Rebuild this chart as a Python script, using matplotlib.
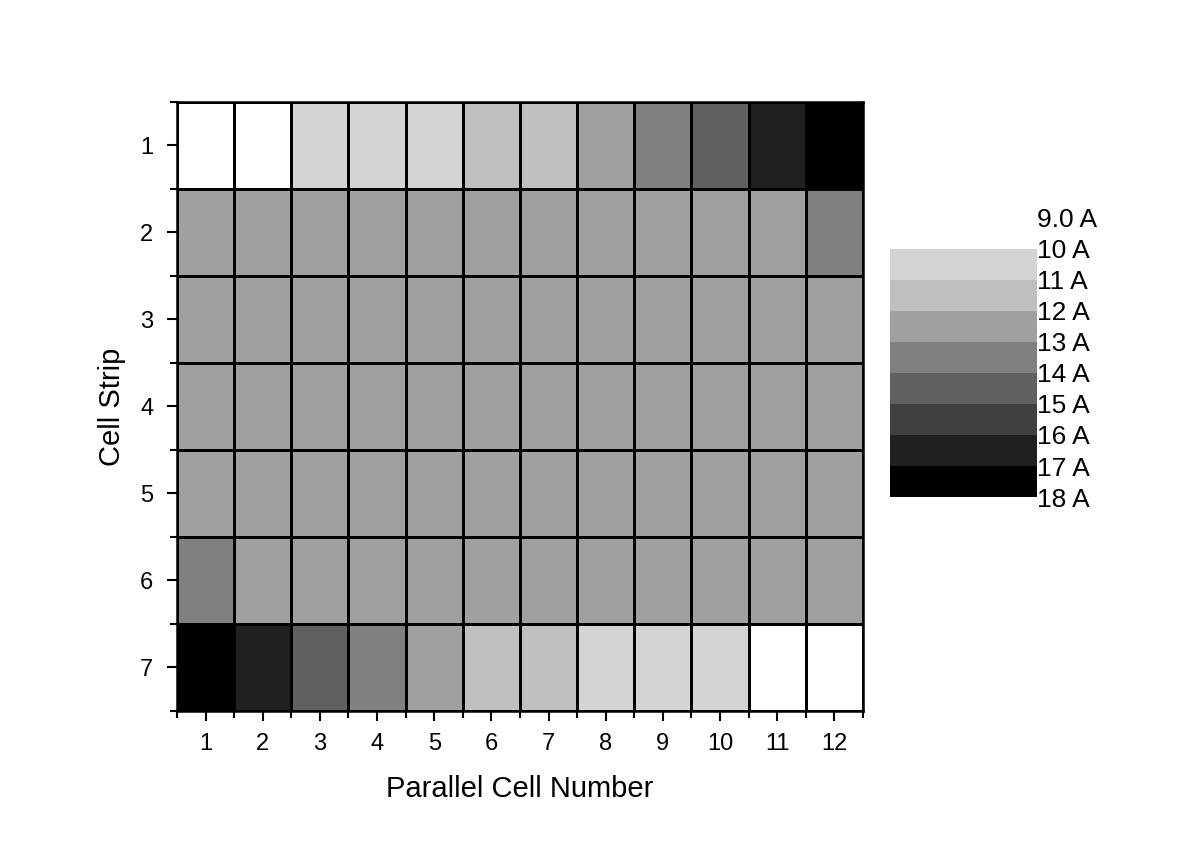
import numpy as np
import matplotlib.pyplot as plt
from matplotlib.colors import ListedColormap, BoundaryNorm

plt.rcParams['font.family'] = ['Liberation Sans', 'DejaVu Sans']

# Parallel cell numbers (columns) and cell strips (rows)
cells = np.arange(1, 13)
strips = np.arange(1, 8)

# Current per cell (A), read from the grey levels
strip1 = [9.5, 9.5, 10.5, 10.5, 10.5, 11.5, 11.5, 12.5, 13.5, 14.5, 16.5, 17.5]
strip2 = [12.5] * 11 + [13.5]
strip3 = [12.5] * 12
strip4 = [12.5] * 12
strip5 = [12.5] * 12
strip6 = [13.5] + [12.5] * 11
strip7 = [17.5, 16.5, 14.5, 13.5, 12.5, 11.5, 11.5, 10.5, 10.5, 10.5, 9.5, 9.5]
current = np.array([strip1, strip2, strip3, strip4, strip5, strip6, strip7])

levels = [9, 10, 11, 12, 13, 14, 15, 16, 17, 18]
level_labels = ['9.0 A', '10 A', '11 A', '12 A', '13 A', '14 A', '15 A', '16 A', '17 A', '18 A']
greys = ['#ffffff', '#d4d4d4', '#bfbfbf', '#a0a0a0', '#808080',
         '#606060', '#404040', '#202020', '#000000']

cmap = ListedColormap(greys)
norm = BoundaryNorm(levels, cmap.N)

fig = plt.figure(figsize=(11.98, 8.46), dpi=100)
ax = fig.add_axes([0.1477, 0.1596, 0.5726, 0.7199])

x_edges = np.arange(0.5, 13, 1)
y_edges = np.arange(0.5, 8, 1)
mesh = ax.pcolormesh(x_edges, y_edges, current, cmap=cmap, norm=norm,
                     edgecolors='black', linewidth=1.8)
ax.set_xlim(0.5, 12.5)
ax.set_ylim(7.5, 0.5)

ax.set_xticks(cells)
ax.set_yticks(strips)
ax.set_xticks(x_edges, minor=True)
ax.set_yticks(y_edges, minor=True)
ax.tick_params(which='major', direction='out', length=7, width=1.5, labelsize=17, pad=9)
ax.tick_params(which='minor', direction='out', length=5, width=1.5)
ax.tick_params(axis='y', pad=10)
for s in ax.spines.values():
    s.set_linewidth(1.8)

ax.set_xlabel('Parallel Cell Number', fontsize=21, labelpad=14)
ax.set_ylabel('Cell Strip', fontsize=21, labelpad=10)

# Colour scale
cax = fig.add_axes([0.743, 0.4125, 0.1227, 0.33])
cb = fig.colorbar(mesh, cax=cax, ticks=levels)
cb.outline.set_visible(False)
cax.invert_yaxis()
cax.set_yticklabels(level_labels)
cax.tick_params(length=0, labelsize=19, pad=0)

plt.savefig('out.png', dpi=100, facecolor='white')
